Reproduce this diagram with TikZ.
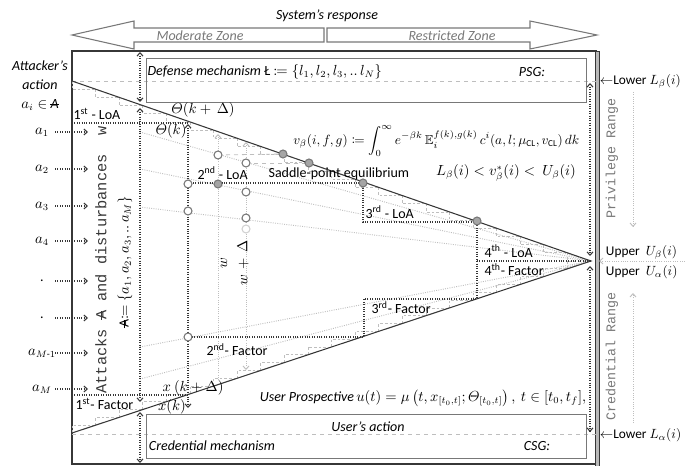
\documentclass[tikz,border=0pt]{standalone}
\usepackage{amsmath,amssymb,mathtools}
\usepackage{fontspec}
\setmainfont{Carlito}
\setmonofont{Liberation Mono}
\usetikzlibrary{arrows.meta, calc, positioning}

\definecolor{DG}{RGB}{55,55,55}
\definecolor{MG}{RGB}{120,120,120}
\definecolor{LG}{RGB}{190,190,190}
\definecolor{CF}{RGB}{165,165,165}

\newcommand{\barA}{\ooalign{A\cr\hidewidth\rule[.62ex]{.6em}{.4pt}\hidewidth\cr}}
\newcommand{\lblsize}{\fontsize{10.5}{14.2}\selectfont}

\tikzset{
  lbl/.style={font=\lblsize, inner sep=1pt},
  itlbl/.style={font=\lblsize\itshape, inner sep=1pt},
  zone/.style={font=\lblsize\itshape, text=MG, inner sep=1pt},
  mono/.style={font=\ttfamily\fontsize{11.5}{13}\selectfont, text=DG, inner sep=1pt},
  rng/.style={font=\ttfamily\fontsize{10}{12}\selectfont, text=MG, rotate=90, inner sep=1pt},
  edgelbl/.style={font=\fontsize{10}{12}\selectfont, inner sep=0.5pt, anchor=west},
  dotl/.style={DG, densely dotted, line width=0.8pt},
  fan/.style={LG, densely dotted, line width=0.7pt},
  stairs/.style={LG, dash pattern=on 2pt off 1.5pt, line width=0.5pt},
  box/.style={draw=MG, line width=0.7pt},
  openc/.style={circle, draw=MG, fill=white, line width=0.8pt, minimum size=6pt, inner sep=0pt},
  fullc/.style={openc, fill=CF},
  faintc/.style={openc, draw=LG!70}
}

\begin{document}
\begin{tikzpicture}[x=0.75pt, y=-0.75pt, >={Straight Barb[length=2.5pt,width=4.5pt]}]
\useasboundingbox (0,0) rectangle (685,466);

% system's response
\draw[MG, line width=0.8pt] (324,28) -- (134,28) -- (134,21) -- (72,35) -- (134,49) -- (134,42) -- (324,42) -- cycle;
\draw[MG, line width=0.8pt] (327,28) -- (530,28) -- (530,21) -- (597,35) -- (530,49) -- (530,42) -- (327,42) -- cycle;
\node[itlbl] (resp) at (327,16) {System's response};
\node[zone] (modz) at (200,36) {Moderate Zone};
\node[zone] (resz) at (452,36) {Restricted Zone};

% frame
\draw[DG, line width=0.8pt] (597,51) -- (72,51) -- (72,464) -- (597,464);
\draw[DG, fill=gray!55, line width=0.5pt] (595,51) rectangle (599,466);

\coordinate (UL) at (72,81);
\coordinate (LL) at (72,433);
\coordinate (apex) at (591,261);

% levels
\draw[LG, dashed, line width=0.6pt] (UL) -- (598,81);
\draw[LG, dashed, line width=0.6pt] (72,434) -- (598,434);

% mechanisms
\draw[box] (146,58) rectangle (586,102);
\draw[box] (146,414) rectangle (586,458);
\node[itlbl, anchor=west] (defm) at (146,72) {Defense mechanism \upshape Ł $\coloneqq\{l_1,l_2,l_3,..\,l_N\}$};
\node[itlbl] (psg) at (532,72) {PSG:};
\node[itlbl] (usact) at (368,427) {User's action};
\node[itlbl] (credm) at (212,446) {Credential mechanism};
\node[itlbl] (csg) at (537,446) {CSG:};

% fine stairs along both edges
\foreach \i [evaluate=\i as \a using \i/22, evaluate=\i as \b using (\i+1)/22] in {0,...,21} {
  \draw[stairs] ($(UL)!\a!(apex)$) |- ($(UL)!\b!(apex)$);
  \draw[stairs] ($(LL)!\a!(apex)$) |- ($(LL)!\b!(apex)$);
}

% attack rays
\foreach \y in {132,169,207,347,379}
  \draw[fan] (140,\y) -- (apex);
\draw[fan, ->] (218,380) -- (218,134);
\draw[fan, <->] (246,142) -- (246,370);
\draw[LG, dashed, line width=0.6pt] (218,155) -- (283,154);
\draw[LG, dashed, line width=0.6pt] (246,163) -- (309,163);

% levels of access / factors
\draw[dotl] (72,123) -- (188,123);
\draw[dotl] (188,183) -- (363,183) -- (363,222) -- (477,222) -- (477,299) -- (364,299) -- (364,337) -- (188,337);
\draw[dotl] (477,261) -- (apex);
\draw[dotl] (72,395) -- (188,395);

% game boundaries
\draw[DG, line width=0.8pt] (UL) -- (apex) -- (LL);

% ranges
\draw[dotl, <->] (140,52) -- (140,102);
\draw[dotl, <->] (140,108) -- (140,402);
\draw[dotl, <->] (140,412) -- (140,463);
\draw[dotl, <->] (188,124) -- (188,408);
\draw[dotl, <->] (590,83) -- (590,256);
\draw[dotl, <->] (590,266) -- (590,432);

% equilibrium points
\node[openc] (p1) at (218,155) {};
\node[openc] (p2) at (246,163) {};
\node[openc] (p3) at (188,184) {};
\node[fullc] (p4) at (218,184) {};
\node[openc] (p5) at (246,192) {};
\node[openc] (p6) at (188,211) {};
\node[openc] (p7) at (246,218) {};
\node[faintc] (p8) at (246,229) {};
\node[openc] (p9) at (188,337) {};
\node[fullc] (q1) at (283,154) {};
\node[fullc] (q2) at (309,163) {};
\node[fullc] (q3) at (363,183) {};
\node[fullc] (q4) at (477,221) {};

% attacker side
\node[itlbl, align=center] (attacker) at (40,86) {Attacker's\\action\\$a_i\in$ \barA};
\foreach \lab/\y [count=\n] in {{$a_1$}/132, {$a_2$}/169, {$a_3$}/206, {$a_4$}/241, {.}/281, {.}/318, {$a_{M\text{-}1}$}/353, {$a_M$}/389} {
  \node[lbl] (in\n) at (42,\y) {\lab};
  \coordinate (s\n) at (55,\y);
  \coordinate (e\n) at (88,\y);
  \draw[dotl, ->] (s\n) -- (e\n);
}
\node[mono, rotate=90] (attk) at (101,260) {Attacks \barA{} and disturbances~ w};
\node[lbl, rotate=90] (aset) at (125,262) {\barA$\coloneqq\{a_1,a_2,a_3,..\,a_M\}$};

% labels
\node[lbl] (thkd) at (203,110) {$\varTheta(k+\,\Delta)$};
\node[lbl] (thk) at (171,131) {$\varTheta(k)$};
\node[lbl] (xkd) at (193,388) {$x\ (k+\Delta)$};
\node[lbl] (xk) at (172,407) {$x(k)$};
\node[lbl, rotate=90] (wl) at (224,263) {$w$};
\node[lbl, rotate=90] (wdl) at (243,263) {$w\,+\,\Delta$};

\node[lbl, anchor=west] (loa1) at (72,114) {1\textsuperscript{st} - LoA};
\node[lbl, anchor=west] (loa2) at (196,173) {2\textsuperscript{nd} - LoA};
\node[lbl, anchor=west] (loa3) at (364,212) {3\textsuperscript{rd} - LoA};
\node[lbl, anchor=west] (loa4) at (483,251) {4\textsuperscript{th} - LoA};
\node[lbl, anchor=west] (fac4) at (483,270) {4\textsuperscript{th}- Factor};
\node[lbl, anchor=west] (fac3) at (370,308) {3\textsuperscript{rd}- Factor};
\node[lbl, anchor=west] (fac2) at (205,350) {2\textsuperscript{nd}- Factor};
\node[lbl, anchor=west] (fac1) at (74,404) {1\textsuperscript{st}- Factor};
\node[lbl, anchor=west] (saddle) at (267,174) {Saddle-point equilibrium};

\node[lbl, font=\fontsize{9.8}{12}\selectfont, anchor=west, inner sep=0pt] (vbeta) at (293,141) {$v_\beta(i,f,g)\coloneqq\displaystyle\int_0^\infty e^{-\beta k}\,\mathbb{E}_i^{f(k),g(k)}\,c^i(a,l;\mu_{\mathrm{CL}},v_{\mathrm{CL}})\,dk$};
\node[lbl] (bounds) at (506,173) {$L_\beta(i)<v^*_\beta(i)<\ U_\beta(i)$};
\node[lbl] (uprosp) at (423,398) {\itshape User Prospective\upshape\,$u(t)=\mu\left(t,x_{[t_0,t]};\varTheta_{[t_0,t]}\right),\ t\in[t_0,t_f],$};

% right side
\node[edgelbl] (lowb) at (599,81) {$\leftarrow$Lower $L_\beta(i)$};
\node[edgelbl] (upb) at (605,252) {Upper\ \ $U_\beta(i)$};
\node[edgelbl] (upa) at (605,272) {Upper\ \ $U_\alpha(i)$};
\node[edgelbl] (lowa) at (599,435) {$\leftarrow$Lower $L_\alpha(i)$};
\coordinate (rin) at (685,261);
\draw[fan, ->] (rin) -- (599,261);
\node[rng] (priv) at (612,158) {Privilege Range};
\node[rng] (cred) at (612,356) {Credential Range};
\draw[fan, ->] (633,92) -- (633,227);
\draw[fan, ->] (633,423) -- (633,293);
\end{tikzpicture}
\end{document}
